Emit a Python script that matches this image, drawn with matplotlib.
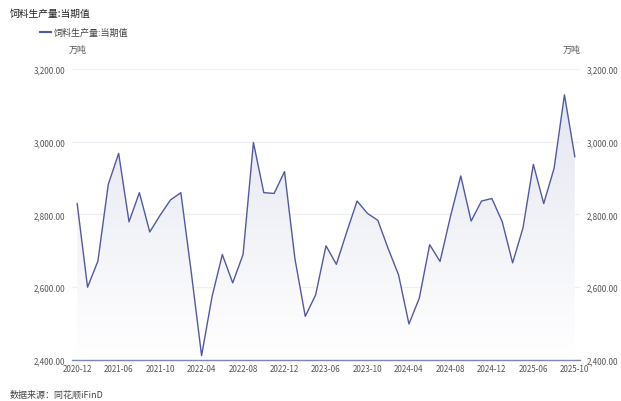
import matplotlib
matplotlib.use("Agg")
import matplotlib.pyplot as plt
import numpy as np
from matplotlib.patches import Polygon
from matplotlib.colors import LinearSegmentedColormap
from matplotlib import font_manager

plt.rcParams['font.family'] = ['Noto Sans CJK SC', 'DejaVu Sans']

months = ["2020-12",
          "2021-03", "2021-04", "2021-05", "2021-06", "2021-07", "2021-08", "2021-09", "2021-10", "2021-11", "2021-12",
          "2022-03", "2022-04", "2022-05", "2022-06", "2022-07", "2022-08", "2022-09", "2022-10", "2022-11", "2022-12",
          "2023-03", "2023-04", "2023-05", "2023-06", "2023-07", "2023-08", "2023-09", "2023-10", "2023-11", "2023-12",
          "2024-03", "2024-04", "2024-05", "2024-06", "2024-07", "2024-08", "2024-09", "2024-10", "2024-11", "2024-12",
          "2025-03", "2025-04", "2025-05", "2025-06", "2025-07", "2025-08", "2025-09", "2025-10"]
values = [2830,
          2600, 2672, 2883, 2968, 2780, 2860, 2752, 2798, 2840, 2860,
          2642, 2412, 2573, 2690, 2612, 2690, 2998, 2860, 2858, 2918,
          2679, 2520, 2579, 2714, 2663, 2752, 2837, 2803, 2784, 2706,
          2634, 2499, 2570, 2717, 2671, 2794, 2906, 2782, 2837, 2844,
          2780, 2667, 2763, 2938, 2830, 2927, 3129, 2959]
yticks = [2400, 2600, 2800, 3000, 3200]
xtick_labels = ["2020-12", "2021-06", "2021-10", "2022-04", "2022-08", "2022-12", "2023-06",
                "2023-10", "2024-04", "2024-08", "2024-12", "2025-06", "2025-10"]
series_name = "饲料生产量:当期值"
unit = "万吨"
source = "数据来源：同花顺iFinD"

avail = {f.name for f in font_manager.fontManager.ttflist}
num_family = ['Liberation Sans Narrow'] if 'Liberation Sans Narrow' in avail else ['Noto Sans CJK SC']
num_size = 6.5 if 'Liberation Sans Narrow' in avail else 5.8

W, H = 621, 402
fig = plt.figure(figsize=(W / 100, H / 100), dpi=100)
ax = fig.add_axes([72 / W, 1 - 361 / H, 508 / W, 291 / H])

x = np.arange(len(values))
ymin, ymax = 2400, 3200
line_color = "#4f5b9e"

grad = np.linspace(0, 1, 256).reshape(-1, 1)
cmap = LinearSegmentedColormap.from_list("g", ["#ffffff", "#e2e4f0"])
im = ax.imshow(grad, extent=[x[0], x[-1], ymin, ymax], origin="lower", aspect="auto",
               cmap=cmap, zorder=1)
verts = [(x[0], ymin)] + list(zip(x, values)) + [(x[-1], ymin)]
poly = Polygon(verts, closed=True, facecolor="none", edgecolor="none")
ax.add_patch(poly)
im.set_clip_path(poly)

ax.plot(x, values, color=line_color, lw=1.0, zorder=3)

ax.set_xlim(-0.5, len(values) - 0.5)
ax.set_ylim(ymin, ymax)
ax.set_yticks(yticks)
ax.yaxis.grid(True, color="#eef0f6", lw=1)
ax.set_axisbelow(True)
for s in ["top", "right", "left"]:
    ax.spines[s].set_visible(False)
ax.spines["bottom"].set_color("#7a86b8")
ax.spines["bottom"].set_linewidth(1)

tick_pos = [months.index(m) for m in xtick_labels]
ax.set_xticks(tick_pos)
ax.set_xticklabels(xtick_labels, family=num_family, fontsize=num_size, color="#555555")
ax.tick_params(axis="x", length=0, pad=3)
ax.tick_params(axis="y", length=0, pad=5, labelright=True, labelleft=True)
ax.set_yticklabels([f"{v:,.2f}" for v in yticks])
for lab in ax.get_yticklabels(which="both") + ax.yaxis.get_majorticklabels():
    pass
for t in ax.yaxis.get_major_ticks():
    for lab in (t.label1, t.label2):
        lab.set_family(num_family)
        lab.set_fontsize(num_size)
        lab.set_color("#555555")

fig.text(10 / W, 1 - 14 / H, series_name, fontsize=7, color="#222222", va="center", ha="left")
fig.add_artist(plt.Line2D([40 / W, 51 / W], [1 - 33 / H, 1 - 33 / H], color=line_color, lw=1.5))
fig.text(54 / W, 1 - 33 / H, series_name, fontsize=6.5, color="#444444", va="center", ha="left")
fig.text(78 / W, 1 - 50 / H, unit, fontsize=6.5, color="#555555", va="center", ha="center")
fig.text(572 / W, 1 - 50 / H, unit, fontsize=6.5, color="#555555", va="center", ha="center")
fig.text(10 / W, 1 - 395 / H, source, fontsize=6.5, color="#444444", va="center", ha="left")

fig.savefig("out.png", dpi=100)
